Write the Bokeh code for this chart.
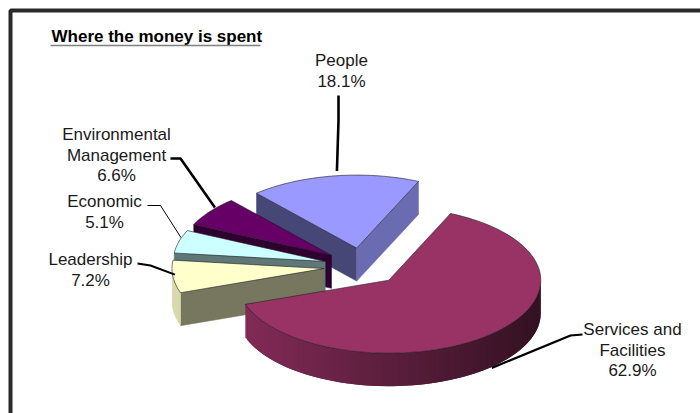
import math
from bokeh.plotting import figure
from bokeh.core.properties import value
from bokeh.embed import file_html
from bokeh.resources import INLINE

# Budget shares, clockwise from the first slice
categories = ["Services and Facilities", "Leadership", "Economic", "Environmental Management", "People"]
shares = [62.9, 7.2, 5.1, 6.6, 18.1]
share_labels = ["62.9%", "7.2%", "5.1%", "6.6%", "18.1%"]
top_colours = [(153, 51, 102), (255, 255, 204), (204, 255, 255), (102, 0, 102), (153, 153, 255)]
label_lines = [["Services and", "Facilities"], ["Leadership"], ["Economic"], ["Environmental", "Management"], ["People"]]

# Pie layout on a pixel-sized canvas
CX, CY, RX, RY, DEPTH, EXPLODE, START = 362, 266, 152, 73, 33, 0.255, 24.0

# Label block centres (x, first line y), leader elbows and small rim offsets
label_pos = [(632, 329), (90, 259), (104, 201), (116, 134), (341, 60)]
leader_elbow = [[(582, 334), (570, 335)], [(137, 263), (150, 265)], [(147, 205), (160, 205)],
                [(170, 158), (180, 158)], [(338, 95), (338, 120)]]
leader_nudge = [(0, 1), (2, -2), (2, -4), (5, -4), (3, -5)]
leader_width = [2.2, 2, 1, 2.6, 2.6]
leader_drop = [1, 0, 0, 0, 0]
LINE_H = 20.7
FONT = value("Liberation Sans")

p = figure(width=700, height=413, x_range=(0, 700), y_range=(413, 0), toolbar_location=None,
           output_backend="svg", min_border=0, outline_line_color=None)
p.axis.visible = False
p.grid.visible = False
p.background_fill_color = "white"
p.border_fill_color = "white"


def hex_of(rgb, f=1.0):
    return "#%02x%02x%02x" % tuple(min(255, int(c * f)) for c in rgb)


def ell(ax, ay, deg):
    t = math.radians(deg)
    return ax + RX * math.sin(t), ay - RY * math.cos(t)


def wall(ax, ay, deg, colour):
    ox, oy = ell(ax, ay, deg)
    p.patch([ax, ox, ox, ax], [ay, oy, oy + DEPTH, ay + DEPTH], fill_color=colour, line_color=colour, line_width=0.5)


# Slice boundaries from the shares
total = sum(shares)
angles = [START]
for s in shares:
    angles.append(angles[-1] + s / total * 360)

# Apex of every exploded slice
apex = []
for i in range(len(shares)):
    mid = math.radians((angles[i] + angles[i + 1]) / 2)
    apex.append((CX + EXPLODE * RX * math.sin(mid), CY - EXPLODE * RY * math.cos(mid)))

# Back slices first so the nearer ones cover them
for i in [4, 3, 2, 1, 0]:
    a0, a1 = angles[i], angles[i + 1]
    ax, ay = apex[i]
    col = top_colours[i]
    if math.sin(math.radians(a0)) < 0:
        wall(ax, ay, a0, hex_of(col, 0.47))
    if math.sin(math.radians(a1)) > 0:
        wall(ax, ay, a1, hex_of(col, 0.7))
    # Curved outer side, shaded by its direction; each band runs under the next to hide seams
    n = max(2, int((a1 - a0) / 2))
    steps = [a0 + (a1 - a0) * k / n for k in range(n + 1)]
    front = [(u, v) for u, v in zip(steps[:-1], steps[1:]) if math.cos(math.radians((u + v) / 2)) < 0]
    # Drawn from the end of the sweep backwards so overlaps stay hidden
    for u, v in reversed(front):
        m = math.radians((u + v) / 2)
        u2 = max(front[0][0], u - (v - u))
        x0, y0 = ell(ax, ay, u2)
        x1, y1 = ell(ax, ay, v)
        c = hex_of(col, 0.60 - 0.26 * math.sin(m))
        p.patch([x0, x1, x1, x0], [y0, y1, y1 + DEPTH, y0 + DEPTH], fill_color=c, line_color=None)
    pts = [ell(ax, ay, d) for d in steps]
    xs = [ax] + [q[0] for q in pts]
    ys = [ay] + [q[1] for q in pts]
    p.patch(xs, ys, fill_color=hex_of(col), line_color="#1c1c1c", line_alpha=0.75, line_width=0.8)

# Leaders from the rim to the labels
for i in range(len(shares)):
    ax, ay = apex[i]
    ex, ey = ell(ax, ay, (angles[i] + angles[i + 1]) / 2)
    ex += leader_nudge[i][0]
    ey += DEPTH * leader_drop[i] + leader_nudge[i][1]
    pts = leader_elbow[i] + [(ex, ey)]
    p.line([q[0] for q in pts], [q[1] for q in pts], line_color="black", line_width=leader_width[i])

# Slice labels with their shares
for i in range(len(shares)):
    lx, ly = label_pos[i]
    for j, t in enumerate(label_lines[i] + [share_labels[i]]):
        p.text([lx], [ly + j * LINE_H], text=[t], text_font=FONT, text_font_size="17px", text_color="#1a1a1a",
               text_align="center", text_baseline="middle")

# Title with underline
p.text([51], [36], text=["Where the money is spent"], text_font=FONT, text_font_style="bold",
       text_font_size="17px", text_color="black", text_align="left", text_baseline="middle")
p.line([50, 260], [45, 45], line_color="#808080", line_width=1.5)

# Frame around the panel
p.line([10, 10, 700], [413, 10, 10], line_color="#2a2a2a", line_width=4)

open("out.html", "w").write(file_html(p, INLINE))
